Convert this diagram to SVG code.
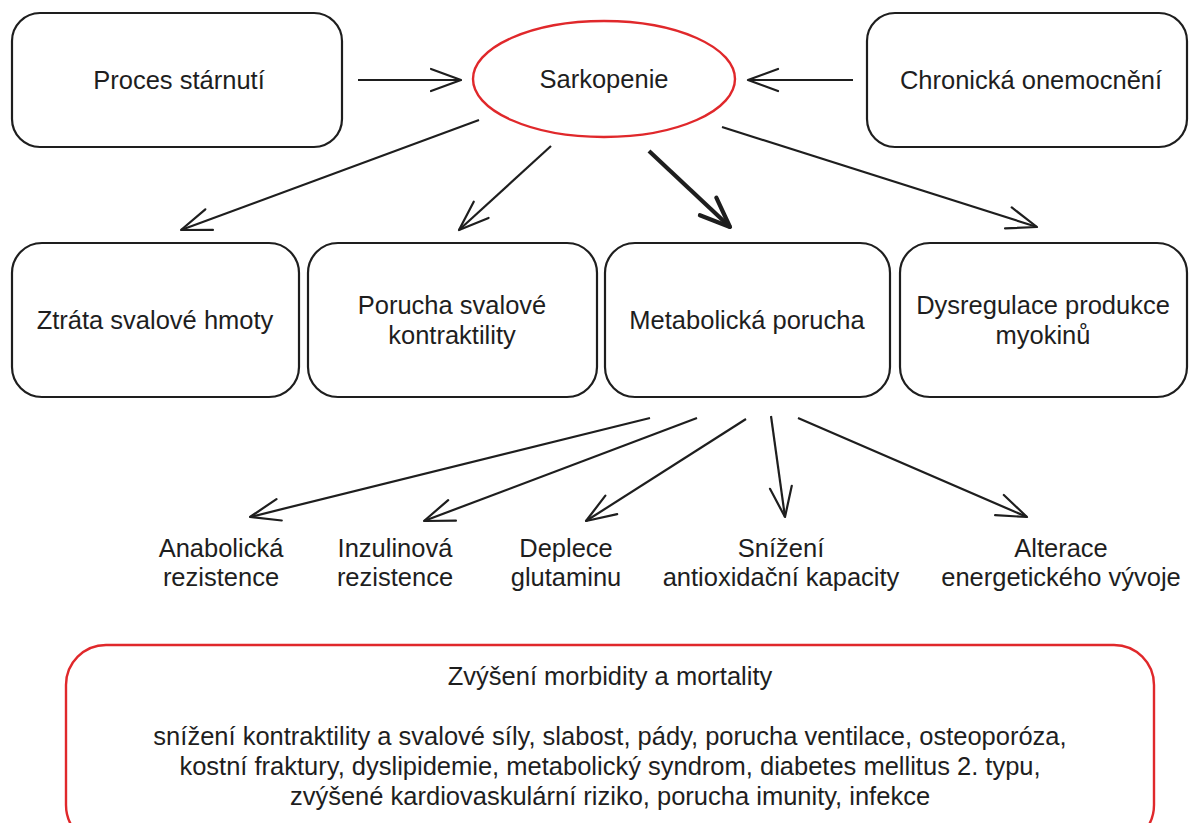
<svg xmlns="http://www.w3.org/2000/svg" width="1197" height="823" viewBox="0 0 1197 823">
  <style>
    text { font-family: "Liberation Sans", Arial, Helvetica, sans-serif; font-size: 25.5px; fill: #1e1e1e; text-anchor: middle; }
    .box { fill: #ffffff; stroke: #1e1e1e; stroke-width: 2.2; }
    .red { fill: #ffffff; stroke: #e0282b; stroke-width: 2.4; }
    .edge { fill: none; stroke: #1e1e1e; stroke-width: 2.2; marker-end: url(#arrow); }
    .edge.bold { stroke-width: 4.2; marker-end: url(#arrowBold); }
  </style>
  <defs>
    <marker id="arrow" markerUnits="userSpaceOnUse" viewBox="-34 -16 38 32" markerWidth="38" markerHeight="32" refX="0" refY="0" orient="auto">
      <path d="M-30,-11 L0,0 L-30,11" fill="none" stroke="#1e1e1e" stroke-width="2.2" stroke-linecap="round" stroke-linejoin="round"/>
    </marker>
    <marker id="arrowBold" markerUnits="userSpaceOnUse" viewBox="-36 -18 40 36" markerWidth="40" markerHeight="36" refX="0" refY="0" orient="auto">
      <path d="M-30,-12 L0,0 L-30,12" fill="none" stroke="#1e1e1e" stroke-width="4.2" stroke-linecap="round" stroke-linejoin="round"/>
    </marker>
  </defs>

  <rect width="1197" height="823" fill="#ffffff"/>

  <!-- connectors -->
  <g id="connectors">
    <line class="edge" x1="358" y1="80" x2="461" y2="80"/>
    <line class="edge" x1="853" y1="80" x2="748" y2="80"/>
    <line class="edge" x1="479" y1="120" x2="181" y2="230"/>
    <line class="edge" x1="551" y1="146" x2="459" y2="230"/>
    <line class="edge bold" x1="649" y1="151" x2="730" y2="227"/>
    <line class="edge" x1="722" y1="127" x2="1037" y2="227"/>
    <line class="edge" x1="650" y1="418" x2="250" y2="517"/>
    <line class="edge" x1="697" y1="418" x2="424" y2="521"/>
    <line class="edge" x1="746" y1="419" x2="586" y2="521"/>
    <line class="edge" x1="771" y1="416" x2="785" y2="517"/>
    <line class="edge" x1="798" y1="418" x2="1027" y2="517"/>
  </g>

  <!-- top row -->
  <g id="proces-starnuti">
    <rect class="box" x="12" y="13" width="330" height="134" rx="28"/>
    <text x="179" y="89">Proces stárnutí</text>
  </g>
  <g id="sarkopenie">
    <ellipse class="red" cx="604" cy="79" rx="131" ry="58"/>
    <text x="604" y="88">Sarkopenie</text>
  </g>
  <g id="chronicka-onemocneni">
    <rect class="box" x="867" y="13" width="320" height="134" rx="28"/>
    <text x="1031" y="89">Chronická onemocnění</text>
  </g>

  <!-- second row -->
  <g id="ztrata-svalove-hmoty">
    <rect class="box" x="12" y="243" width="287" height="154" rx="30"/>
    <text x="155" y="329">Ztráta svalové hmoty</text>
  </g>
  <g id="porucha-kontraktility">
    <rect class="box" x="308" y="243" width="289" height="154" rx="30"/>
    <text x="452" y="314">Porucha svalové</text>
    <text x="452" y="344">kontraktility</text>
  </g>
  <g id="metabolicka-porucha">
    <rect class="box" x="605" y="243" width="285" height="154" rx="30"/>
    <text x="747" y="329">Metabolická porucha</text>
  </g>
  <g id="dysregulace-myokinu">
    <rect class="box" x="900" y="243" width="287" height="154" rx="30"/>
    <text x="1043" y="314">Dysregulace produkce</text>
    <text x="1043" y="344">myokinů</text>
  </g>

  <!-- metabolic consequences -->
  <g id="anabolicka-rezistence">
    <text x="221" y="557">Anabolická</text>
    <text x="221" y="586">rezistence</text>
  </g>
  <g id="inzulinova-rezistence">
    <text x="395" y="557">Inzulinová</text>
    <text x="395" y="586">rezistence</text>
  </g>
  <g id="deplece-glutaminu">
    <text x="566" y="557">Deplece</text>
    <text x="566" y="586">glutaminu</text>
  </g>
  <g id="snizeni-antioxidacni-kapacity">
    <text x="781" y="557">Snížení</text>
    <text x="781" y="586">antioxidační kapacity</text>
  </g>
  <g id="alterace-energetickeho-vyvoje">
    <text x="1061" y="557">Alterace</text>
    <text x="1061" y="586">energetického vývoje</text>
  </g>

  <!-- outcome box -->
  <g id="morbidita-mortalita">
    <rect class="red" x="66" y="645" width="1088" height="200" rx="40"/>
    <text x="610" y="685">Zvýšení morbidity a mortality</text>
    <text x="610" y="745">snížení kontraktility a svalové síly, slabost, pády, porucha ventilace, osteoporóza,</text>
    <text x="610" y="775">kostní fraktury, dyslipidemie, metabolický syndrom, diabetes mellitus 2. typu,</text>
    <text x="610" y="805">zvýšené kardiovaskulární riziko, porucha imunity, infekce</text>
  </g>
</svg>
